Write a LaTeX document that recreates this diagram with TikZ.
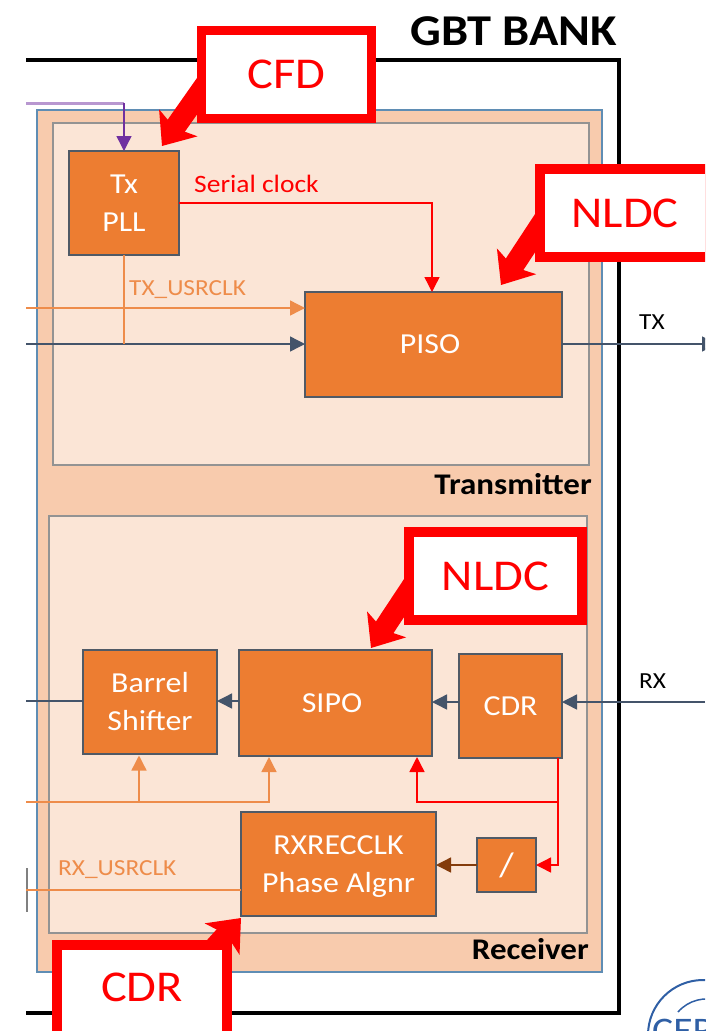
\documentclass[tikz,border=0pt]{standalone}
\usepackage{fontspec}
\setmainfont[FakeStretch=1.1]{Carlito}
\usetikzlibrary{arrows.meta}
\definecolor{frameblue}{HTML}{5F8DB4}
\definecolor{bankfill}{HTML}{F8CBAD}
\definecolor{partfill}{HTML}{FBE5D6}
\definecolor{blockfill}{HTML}{ED7D31}
\definecolor{blockline}{HTML}{505A66}
\definecolor{clkline}{HTML}{EE8C4A}
\definecolor{dataline}{HTML}{44546A}
\definecolor{pllline}{HTML}{7030A0}
\definecolor{divline}{HTML}{843C0C}
\definecolor{cernblue}{HTML}{2F5FA5}
\tikzset{
  block/.style={draw=blockline, line width=1.5pt, fill=blockfill, text=white, align=center, inner sep=0pt, outer sep=0pt, font=\fontsize{29}{38}\selectfont},
  part/.style={draw=gray!85, line width=1.5pt, fill=partfill},
  flag/.style={draw=red, line width=9.5pt, fill=white, text=red, inner sep=0pt, outer sep=0pt, font=\fontsize{44}{50}\selectfont},
  bigarrow/.style={red, line width=21pt, -{Stealth[length=28pt,width=46pt,inset=6pt]}},
  wire/.style={line width=1.4pt, -{Triangle[length=15pt,width=15pt]}},
  plain/.style={line width=1.4pt},
  small/.style={font=\fontsize{23}{26}\selectfont, inner sep=0pt},
  title/.style={font=\bfseries\fontsize{30}{32}\selectfont, inner sep=0pt}
}
\begin{document}
\begin{tikzpicture}[x=1pt, y=-1pt]
\clip (0,0) rectangle (705,1031);

% frames
\draw[line width=3.5pt] (26,60)--(619,60)--(619,1013)--(26,1013);
\draw[gray, line width=1.5pt] (27,868)--(27,912);
\draw[frameblue, line width=1.5pt, fill=bankfill] (37,110) rectangle (602,972);
\draw[part] (53,123) rectangle (589,465);
\draw[part] (49,516) rectangle (587,933);
\node[font=\bfseries\fontsize{44}{50}\selectfont, inner sep=0pt] (bank) at (514,31) {GBT BANK};
\node[title, anchor=east] (txtitle) at (592,484) {Transmitter};
\node[title, anchor=east] (rxtitle) at (589,949) {Receiver};

% blocks
\node[block, minimum width=110pt, minimum height=104pt] (pll) at (124,203) {Tx\\PLL};
\node[block, minimum width=257pt, minimum height=105pt] (piso) at (433.5,344.5) {PISO\kern7pt};
\node[block, minimum width=134pt, minimum height=104pt] (barrel) at (150,702) {Barrel\\Shifter};
\node[block, minimum width=193pt, minimum height=106pt] (sipo) at (335.5,703) {SIPO\kern7pt};
\node[block, minimum width=103pt, minimum height=104pt] (cdr) at (510.5,706) {CDR};
\node[block, minimum width=195pt, minimum height=104pt] (align) at (338.5,864) {RXRECCLK\\\smash{Phase Algnr}};
\node[block, minimum width=59pt, minimum height=54pt, font=\fontsize{34}{38}\selectfont] (div) at (506.5,865) {/};

% free ends
\coordinate (pllin) at (26,103);
\coordinate (txclk) at (26,308);
\coordinate (txdata) at (26,344);
\coordinate (txout) at (717,344);
\coordinate (rxin) at (705,702);
\coordinate (rxdata) at (26,701);
\coordinate (rxclk) at (26,802);
\coordinate (rxuser) at (26,890);
\coordinate (clkfork) at (558,802);

% signals
\draw[pllline!50, line width=3pt] (pllin)--(pll.north |- pllin);
\draw[wire, pllline] (pll.north |- pllin)--(pll.north);
\draw[wire, clkline] (txclk)--(piso.west |- txclk);
\draw[wire, dataline] (txdata)--(piso.west |- txdata);
\draw[plain, clkline] (pll.south)--(pll.south |- txdata);
\draw[wire, red] (pll.east)-|(piso.north -| 432,0);
\draw[wire, dataline] (piso.east |- txout)--(txout);
\draw[wire, dataline] (rxin)--(cdr.east |- rxin);
\draw[wire, dataline] (cdr.west |- rxin)--(sipo.east |- rxin);
\draw[wire, dataline] (sipo.west |- rxdata)--(barrel.east |- rxdata);
\draw[plain, dataline] (barrel.west |- rxdata)--(rxdata);
\draw[wire, clkline] (rxclk)-|(269,757);
\draw[wire, clkline] (139,802)--(139,755.5);
\draw[plain, red] (clkfork |- cdr.south)--(clkfork);
\draw[wire, red] (clkfork)-|(417,757);
\draw[wire, red] (clkfork)|-(div.east);
\draw[wire, divline] (div.west)--(align.east |- div.west);
\draw[plain, clkline] (align.west |- rxuser)--(rxuser);

% labels
\node[small, text=red, anchor=west, font=\fontsize{25}{26}\selectfont] (seriallab) at (194,184) {Serial clock};
\node[small, text=clkline, anchor=west] (txlab) at (129,290) {TX\_USRCLK};
\node[small, text=clkline, anchor=west] (rxlab) at (58,870) {RX\_USRCLK};
\node[small, anchor=west] (txpin) at (639,322) {TX};
\node[small, anchor=west] (rxpin) at (639,681) {RX};

% flags
\coordinate (cfdtip) at (162,146);
\coordinate (nldctip) at (501,285);
\coordinate (sipotip) at (371,648);
\coordinate (cdrtip) at (241,918);
\draw[bigarrow] (207,82)--(cfdtip);
\draw[bigarrow] (545,218)--(nldctip);
\draw[bigarrow] (414,583)--(sipotip);
\draw[bigarrow] (205,958)--(cdrtip);
\node[flag, minimum width=170pt, minimum height=88pt] (cfd) at (286.5,74.5) {CFD};
\node[flag, minimum width=170pt, minimum height=88pt] (nldcb) at (625,213) {NLDC};
\node[flag, minimum width=173pt, minimum height=88pt] (nldca) at (495.5,576) {NLDC};
\node[flag, minimum width=170pt, minimum height=110pt, text depth=26pt] (cdrflag) at (142,1000) {CDR};

% logo
\draw[cernblue, line width=2pt] (703,1035) circle (55);
\draw[cernblue, line width=1.5pt] (678,1012) arc (221:290:38);
\node[text=cernblue, font=\fontsize{36}{38}\selectfont, anchor=base west, inner sep=0pt] (cern) at (652,1042) {CER};
\end{tikzpicture}
\end{document}
